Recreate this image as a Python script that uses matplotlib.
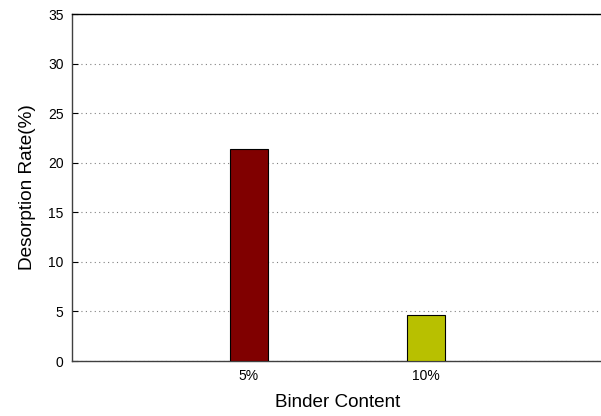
import numpy as np
import matplotlib.pyplot as plt

plt.rcParams['font.family'] = ['Liberation Sans', 'DejaVu Sans']

categories = ['5%', '10%']
desorption = [21.35, 4.65]
colors = ['#800000', '#b8c000']

fig = plt.figure(figsize=(6.01, 4.16), dpi=100)
ax = fig.add_axes([0.1198, 0.1322, 0.8835, 0.8341])

x = np.arange(1, len(categories) + 1)
ax.bar(x, desorption, width=0.21, color=colors, edgecolor='black', linewidth=0.8, zorder=3)

ax.set_xlim(0, 3)
ax.set_ylim(0, 35)
ax.set_xticks(x)
ax.set_xticklabels(categories)
ax.set_yticks(np.arange(0, 36, 5))
ax.tick_params(axis='both', labelsize=10, direction='in')
ax.tick_params(axis='y', length=4, pad=6)
ax.tick_params(axis='x', length=0, pad=6)
ax.yaxis.grid(True, linestyle=(0, (1, 3)), color='#808080', linewidth=0.8)
ax.set_axisbelow(True)

for side in ['top', 'left', 'bottom', 'right']:
    ax.spines[side].set_linewidth(1.0)
ax.spines['left'].set_color('#404040')
ax.spines['bottom'].set_color('#404040')

ax.set_xlabel('Binder Content', fontsize=13.6, labelpad=8)
ax.set_ylabel('Desorption Rate(%)', fontsize=13.7, labelpad=9)

fig.savefig('out.png', dpi=100)
